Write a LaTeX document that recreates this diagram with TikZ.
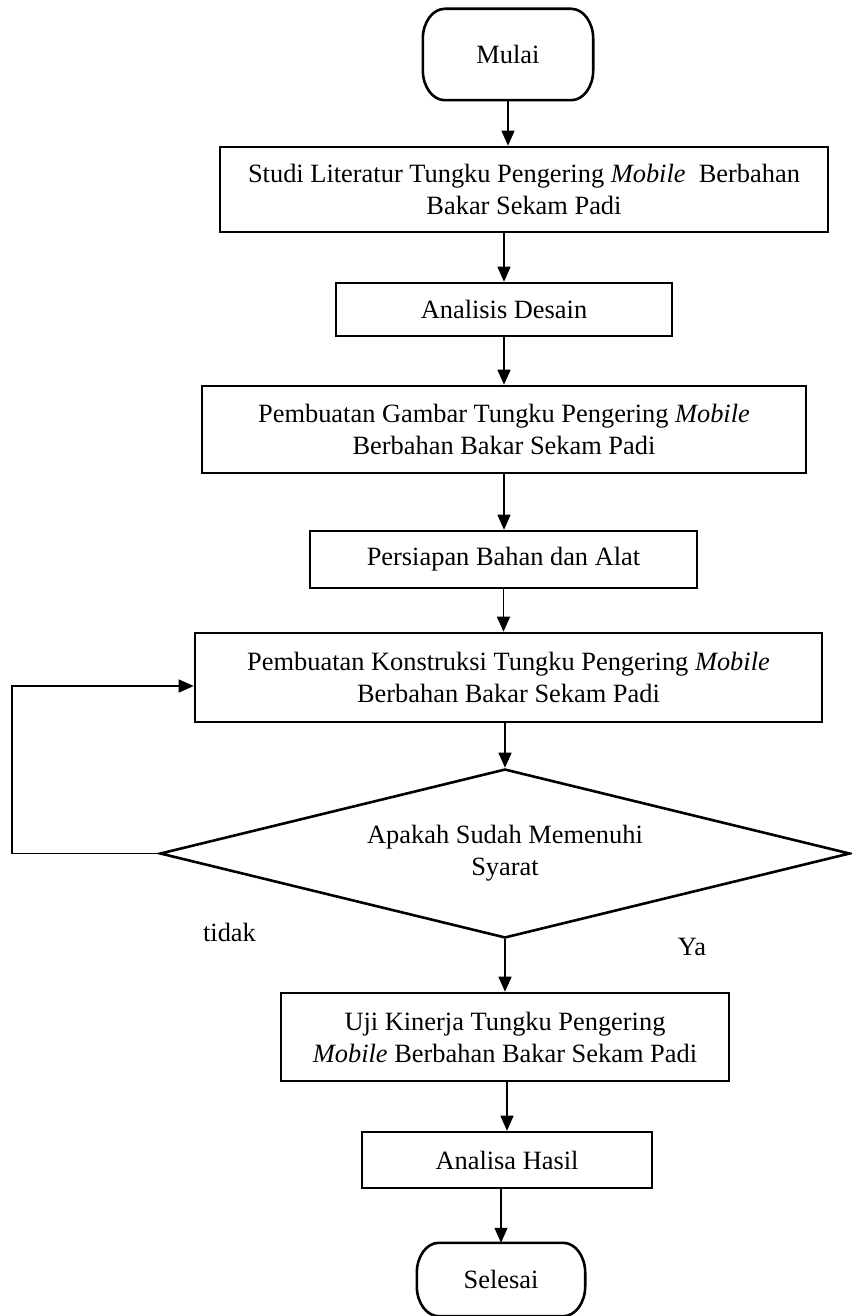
\documentclass[tikz,border=0pt]{standalone}
\usepackage{fontspec}
\setmainfont{Liberation Serif}
\usetikzlibrary{arrows.meta,shapes.geometric}
\tikzset{
  every node/.style={font=\fontsize{26.4}{32}\selectfont},
  procbox/.style={draw, line width=2.6pt, inner sep=0pt, align=center},
  termbox/.style={inner sep=0pt, align=center},
  termline/.style={line width=2.6pt},
  decbox/.style={draw, shape=diamond, aspect=4.083, line width=2.6pt, inner sep=0pt, align=center},
  arr/.style={line width=1.3pt, -{Triangle[width=13pt,length=15pt]}},
  lbl/.style={inner sep=0pt}
}
\newcommand{\termoutline}[1]{%
  \draw[termline] ([xshift=22pt]#1.north west) -- ([xshift=-22pt]#1.north east)
    arc[start angle=90, end angle=0, x radius=22pt, y radius=30pt]
    -- ([yshift=30pt]#1.south east)
    arc[start angle=0, end angle=-90, x radius=22pt, y radius=30pt]
    -- ([xshift=22pt]#1.south west)
    arc[start angle=270, end angle=180, x radius=22pt, y radius=30pt]
    -- ([yshift=-30pt]#1.north west)
    arc[start angle=180, end angle=90, x radius=22pt, y radius=30pt] -- cycle;}
\begin{document}
\begin{tikzpicture}[x=1pt,y=1pt]
\useasboundingbox (0,0) rectangle (851,-1316);
\node[termbox, minimum width=170pt, minimum height=91pt] (mulai) at (508,-54.5) {Mulai};
\termoutline{mulai}
\node[procbox, minimum width=608pt, minimum height=85pt] (b1) at (524,-189.5)
  {Studi Literatur Tungku Pengering \textit{Mobile}\ \ Berbahan\\Bakar Sekam Padi};
\node[procbox, minimum width=336pt, minimum height=53pt] (b2) at (504,-309.5) {Analisis Desain};
\node[procbox, minimum width=604pt, minimum height=87pt] (b3) at (504,-429.5)
  {Pembuatan Gambar Tungku Pengering \textit{Mobile}\\Berbahan Bakar Sekam Padi};
\node[procbox, minimum width=387pt, minimum height=57pt] (b4) at (503.5,-559.5) {Persiapan Bahan dan Alat};
\node[procbox, minimum width=627pt, minimum height=89pt] (b5) at (508.5,-677.5)
  {Pembuatan Konstruksi Tungku Pengering \textit{Mobile}\\Berbahan Bakar Sekam Padi};
\node[decbox, minimum width=690pt, minimum height=169pt] (dia) at (505,-853.5)
  {Apakah Sudah Memenuhi\\Syarat};
\node[procbox, minimum width=448pt, minimum height=88pt] (b6) at (505,-1037)
  {Uji Kinerja Tungku Pengering\\\textit{Mobile} Berbahan Bakar Sekam Padi};
\node[procbox, minimum width=290pt, minimum height=56pt] (b7) at (507,-1160) {Analisa Hasil};
\node[termbox, minimum width=168pt, minimum height=73pt] (selesai) at (501,-1279.5) {Selesai};
\termoutline{selesai}
\node[lbl] (tidak) at (229.5,-932) {tidak};
\node[lbl] (ya) at (692,-947) {Ya};
\coordinate (lt) at (12,-686);
\draw[arr] (mulai.south) -- (mulai.south |- b1.north);
\draw[arr] (b1.south -| b2.north) -- (b2.north);
\draw[arr] (b2.south) -- (b2.south |- b3.north);
\draw[arr] (b3.south) -- (b3.south |- b4.north);
\draw[arr] (b4.south) -- (b4.south |- b5.north);
\draw[arr] (b5.south -| dia.north) -- (dia.north);
\draw[arr] (dia.south) -- (dia.south |- b6.north);
\draw[arr] (b6.south -| b7.north) -- (b7.north);
\draw[arr] (b7.south -| selesai.north) -- (selesai.north);
\draw[arr] (dia.west) -| (lt) -- (lt -| b5.west);
\end{tikzpicture}
\end{document}
